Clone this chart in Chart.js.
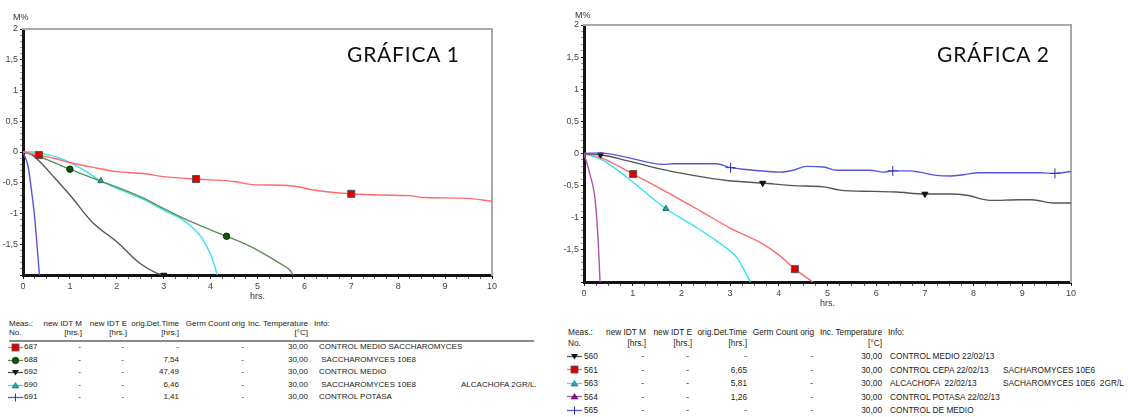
<!DOCTYPE html>
<html><head><meta charset="utf-8">
<script src="https://cdn.jsdelivr.net/npm/chart.js@4/dist/chart.umd.min.js"></script>
<style>
html,body{margin:0;padding:0;background:#fff;}
body{width:1128px;height:417px;position:relative;overflow:hidden;font-family:"Liberation Sans",Arial,sans-serif;}
canvas{position:absolute;}
.t{position:absolute;white-space:pre;line-height:10px;color:#222;}
.big{position:absolute;font-family:Lato,"Open Sans",sans-serif;font-size:21px;letter-spacing:0.8px;color:#111;white-space:nowrap;line-height:normal;}
.ax{position:absolute;font-size:9px;color:#333;line-height:10px;white-space:nowrap;}
</style></head><body>
<canvas id="c1"></canvas>
<canvas id="c2"></canvas>
<div class="big" style="left:347px;top:41px">GRÁFICA 1</div>
<div class="big" style="left:937px;top:41px">GRÁFICA 2</div>
<div class="ax" style="left:13px;top:12px">M%</div>
<div class="ax" style="left:575px;top:10px">M%</div>
<div id="tables"></div>
<script>
// ---------- Chart 1 data (hrs, M%) ----------
const hrs1_687 = [0, 0.34, 0.7, 1.0, 1.5, 2.0, 2.56, 3.0, 3.69, 4.2, 4.5, 4.9, 5.55, 5.9, 6.12, 7.0, 7.6, 8.25, 8.54, 9.39, 10];
const m1_687   = [0, -0.05, -0.11, -0.17, -0.25, -0.32, -0.35, -0.40, -0.44, -0.46, -0.48, -0.53, -0.54, -0.57, -0.61, -0.68, -0.70, -0.71, -0.74, -0.75, -0.80];
const hrs1_688 = [0, 0.22, 0.5, 1.0, 1.64, 2.0, 2.57, 3.0, 3.63, 4.34, 4.8, 5.12, 5.45, 5.69, 5.76];
const m1_688   = [0, -0.04, -0.12, -0.28, -0.47, -0.57, -0.75, -0.92, -1.15, -1.37, -1.52, -1.65, -1.80, -1.92, -2.0];
const hrs1_692 = [0, 0.2, 0.36, 0.65, 1.0, 1.5, 2.0, 2.49, 2.85, 3.0];
const m1_692   = [0, -0.05, -0.16, -0.40, -0.70, -1.16, -1.46, -1.81, -1.97, -2.0];
const hrs1_690 = [0, 0.22, 0.5, 0.79, 1.29, 1.66, 2.1, 2.57, 3.06, 3.4, 3.63, 3.8, 3.92, 4.03, 4.09, 4.14];
const m1_690   = [0, 0, -0.04, -0.10, -0.29, -0.47, -0.62, -0.77, -0.97, -1.10, -1.24, -1.38, -1.54, -1.72, -1.86, -2.0];
const hrs1_691 = [0, 0.11, 0.18, 0.24, 0.29, 0.35];
const m1_691   = [0, -0.24, -0.62, -1.0, -1.43, -2.0];
const marks1_687 = [0.34, 3.69, 7.0];
const marks1_688 = [1.0, 4.34];
const marks1_692 = [3.0];
const marks1_690 = [1.66];
const marks1_691 = [];

// ---------- Chart 2 data (hrs, M%) ----------
const hrs2_565 = [0, 0.33, 0.88, 1.63, 1.83, 2.72, 3.01, 3.48, 4.02, 4.3, 4.57, 4.92, 5.19, 5.87, 6.15, 6.34, 6.69, 6.89, 7.24, 7.52, 7.79, 8.13, 9.36, 9.67, 10];
const m2_565   = [0, 0.01, -0.06, -0.17, -0.16, -0.16, -0.22, -0.26, -0.29, -0.26, -0.20, -0.21, -0.26, -0.26, -0.29, -0.27, -0.27, -0.29, -0.34, -0.35, -0.33, -0.30, -0.30, -0.31, -0.28];
const hrs2_560 = [0, 0.34, 0.88, 1.56, 2.24, 2.93, 3.67, 4.3, 4.92, 5.26, 5.94, 6.42, 7.0, 7.52, 7.86, 8.34, 8.95, 9.2, 9.64, 10];
const m2_560   = [0, -0.02, -0.11, -0.24, -0.34, -0.42, -0.46, -0.50, -0.52, -0.57, -0.59, -0.60, -0.63, -0.63, -0.65, -0.73, -0.72, -0.72, -0.77, -0.77];
const hrs2_561 = [0, 0.33, 1.01, 1.70, 2.38, 3.0, 3.68, 4.02, 4.33, 4.70];
const m2_561   = [0, -0.06, -0.32, -0.60, -0.89, -1.16, -1.41, -1.59, -1.80, -2.0];
const hrs2_563 = [0, 0.40, 0.88, 1.22, 1.68, 2.24, 2.72, 3.14, 3.28, 3.42];
const m2_563   = [0, -0.11, -0.37, -0.58, -0.86, -1.12, -1.36, -1.62, -1.80, -2.0];
const hrs2_564 = [0, 0.12, 0.23, 0.29, 0.33];
const m2_564   = [0, -0.32, -0.73, -1.36, -2.0];
const marks2_560 = [0.34, 3.67, 7.0];
const marks2_561 = [1.01, 4.33];
const marks2_563 = [1.68];
const marks2_564 = [];
const marks2_565 = [3.01, 6.34, 9.67];

// ---------- Axis ----------
const xMin = 0, xMax = 10, yMin = -2, yMax = 2;

// ---------- Table texts ----------
const tbl1Ids  = ['687', '688', '692', '690', '691'];
const tbl1Det  = ['-', '7,54', '47,49', '6,46', '1,41'];
const tbl1Temp = ['30,00', '30,00', '30,00', '30,00', '30,00'];
const tbl1Info = ['CONTROL MEDIO SACCHAROMYCES', ' SACCHAROMYCES 10E8', 'CONTROL MEDIO', ' SACCHAROMYCES 10E8', 'CONTROL POTASA'];
const tbl1Info2 = ['', '', '', 'ALCACHOFA 2GR/L.', ''];
const tbl2Ids  = ['560', '561', '563', '564', '565'];
const tbl2Det  = ['-', '6,65', '5,81', '1,26', '-'];
const tbl2Temp = ['30,00', '30,00', '30,00', '30,00', '30,00'];
const tbl2Info = ['CONTROL MEDIO 22/02/13', 'CONTROL CEPA 22/02/13', 'ALCACHOFA  22/02/13', 'CONTROL POTASA 22/02/13', 'CONTROL DE MEDIO'];
const tbl2Info2 = ['', 'SACHAROMYCES 10E6', 'SACHAROMYCES 10E6  2GR/L', '', ''];

// ---------- Styles ----------
const ST = {
  red:   {line:'#ff6a6a', style:'rect', r:5, bg:'#e00000', bd:'#555555', rot:0, icon:'sq'},
  green: {line:'#5f8f55', style:'circle', r:3.2, bg:'#0a5a0a', bd:'#0a2a0a', rot:0, icon:'ci'},
  black: {line:'#555555', style:'triangle', r:3.5, bg:'#111111', bd:'#111111', rot:180, icon:'it'},
  cyan:  {line:'#35e3f3', style:'triangle', r:3.5, bg:'#22a6a6', bd:'#1a6f6f', rot:0, icon:'tr'},
  blue:  {line:'#5656dc', style:'cross', r:5, bg:'#3030c0', bd:'#3030c0', rot:0, icon:'pl'},
  purple:{line:'#b050b0', style:'triangle', r:3.5, bg:'#801880', bd:'#601060', rot:0, icon:'ptr'}
};

function ds(xs, ys, marks, st) {
  return {
    data: xs.map((x, i) => ({x: x, y: ys[i]})),
    borderColor: st.line, borderWidth: 1.4, fill: false,
    cubicInterpolationMode: 'monotone',
    pointStyle: st.style, pointRotation: st.rot,
    pointRadius: c => (c.raw && marks.includes(c.raw.x)) ? st.r : 0,
    pointHoverRadius: 0,
    pointBackgroundColor: st.bg, pointBorderColor: st.bd, pointBorderWidth: 1
  };
}

const font9 = {family: '"Liberation Sans", Arial, sans-serif', size: 9};

function makeChart(id, left, W, H, area, datasets) {
  const el = document.getElementById(id);
  el.width = W; el.height = H;
  el.style.left = left + 'px'; el.style.top = '0px';
  el.style.width = W + 'px'; el.style.height = H + 'px';
  return new Chart(el, {
    type: 'line',
    data: {datasets: datasets},
    options: {
      responsive: false, animation: false, devicePixelRatio: 1,
      layout: {padding: 0},
      plugins: {legend: {display: false}, tooltip: {enabled: false}},
      scales: {
        x: {
          type: 'linear', position: 'bottom', min: xMin, max: xMax,
          afterFit: s => { s.height = H - area.bottom; },
          border: {display: true, color: '#151515', width: 3},
          grid: {display: true, drawOnChartArea: false, drawTicks: true, tickLength: 4,
                 tickColor: c => Number.isInteger(c.tick.value) ? '#222' : '#666', tickWidth: 1},
          ticks: {stepSize: 0.25, autoSkip: false, maxRotation: 0, padding: 2, color: '#444', font: font9,
                  callback: v => Number.isInteger(v) ? String(v) : ''},
          title: {display: true, text: 'hrs.', color: '#333', font: font9, padding: 0}
        },
        y: {
          type: 'linear', position: 'left', min: yMin, max: yMax,
          afterFit: s => { s.width = area.left; },
          border: {display: true, color: '#151515', width: 3},
          grid: {display: true, drawOnChartArea: false, drawTicks: true, tickLength: 3,
                 tickColor: c => (Math.abs(c.tick.value * 2 - Math.round(c.tick.value * 2)) < 1e-6) ? '#222' : '#999', tickWidth: 1},
          ticks: {stepSize: 0.1, autoSkip: false, padding: 2, color: '#444', font: font9,
                  callback: v => {
                    if (Math.abs(v * 2 - Math.round(v * 2)) > 1e-6) return '';
                    if (Math.abs(v - yMin) < 1e-6) return '';
                    return String(Math.round(v * 10) / 10).replace('.', ',');
                  }}
        },
        xt: {
          type: 'linear', position: 'top', min: xMin, max: xMax,
          afterFit: s => { s.height = area.top; },
          border: {display: true, color: '#a9a9a9', width: 2},
          grid: {display: false, drawTicks: false},
          ticks: {display: false}
        },
        yr: {
          type: 'linear', position: 'right', min: yMin, max: yMax,
          afterFit: s => { s.width = W - area.right; },
          border: {display: true, color: '#a9a9a9', width: 2},
          grid: {display: false, drawTicks: false},
          ticks: {display: false}
        }
      }
    }
  });
}

makeChart('c1', 0, 520, 302, {left: 23, top: 29, right: 492, bottom: 275}, [
  ds(hrs1_687, m1_687, marks1_687, ST.red),
  ds(hrs1_688, m1_688, marks1_688, ST.green),
  ds(hrs1_692, m1_692, marks1_692, ST.black),
  ds(hrs1_690, m1_690, marks1_690, ST.cyan),
  ds(hrs1_691, m1_691, marks1_691, ST.blue)
]);
makeChart('c2', 560, 568, 309, {left: 24, top: 25, right: 511, bottom: 282}, [
  ds(hrs2_565, m2_565, marks2_565, ST.blue),
  ds(hrs2_560, m2_560, marks2_560, ST.black),
  ds(hrs2_561, m2_561, marks2_561, ST.red),
  ds(hrs2_563, m2_563, marks2_563, ST.cyan),
  ds(hrs2_564, m2_564, marks2_564, ST.purple)
]);

// ---------- Tables (HTML text) ----------
function icon(st) {
  let m = '';
  const c = 7.5, y = 4.5;
  if (st.icon === 'sq') m = `<rect x="${c-3.5}" y="${y-3.5}" width="7" height="7" fill="${st.bg}" stroke="${st.bd}" stroke-width="0.8"/>`;
  else if (st.icon === 'ci') m = `<circle cx="${c}" cy="${y}" r="3.2" fill="${st.bg}" stroke="${st.bd}" stroke-width="0.8"/>`;
  else if (st.icon === 'it') m = `<polygon points="${c-3.5},${y-2.5} ${c+3.5},${y-2.5} ${c},${y+3}" fill="${st.bg}"/>`;
  else if (st.icon === 'tr' || st.icon === 'ptr') m = `<polygon points="${c-3.5},${y+2.5} ${c+3.5},${y+2.5} ${c},${y-3}" fill="${st.bg}" stroke="${st.bd}" stroke-width="0.6"/>`;
  else if (st.icon === 'pl') m = `<line x1="${c}" y1="${y-4}" x2="${c}" y2="${y+4}" stroke="${st.bg}" stroke-width="1"/>`;
  return `<svg width="15" height="9" style="position:absolute;left:0;top:0"><line x1="0" y1="${y}" x2="15" y2="${y}" stroke="${st.line}" stroke-width="1.3"/>${m}</svg>`;
}
const host = document.getElementById('tables');
function txt(s, x, yc, fs, align) {
  const d = document.createElement('div');
  d.className = 't';
  d.style.fontSize = fs + 'px';
  d.style.top = (yc - 5) + 'px';
  d.style.left = x + 'px';
  if (align === 'r') d.style.transform = 'translateX(-100%)';
  d.textContent = s;
  host.appendChild(d);
}
function buildTable(T) {
  const f = T.fs;
  txt('Meas.:', T.meas, T.h1, f); txt('No.', T.meas, T.h2, f);
  txt('new IDT M', T.cM, T.h1, f, 'r'); txt('[hrs.]', T.cM, T.h2, f, 'r');
  txt('new IDT E', T.cE, T.h1, f, 'r'); txt('[hrs.]', T.cE, T.h2, f, 'r');
  txt('orig.Det.Time', T.cD, T.h1, f, 'r'); txt('[hrs.]', T.cD, T.h2, f, 'r');
  txt('Germ Count orig', T.cG, T.h1, f, 'r');
  txt('Inc. Temperature', T.cT, T.h1, f, 'r'); txt('[°C]', T.cT, T.h2, f, 'r');
  txt('Info:', T.info, T.h1, f);
  if (T.line) {
    const l = document.createElement('div');
    l.style.cssText = `position:absolute;left:${T.meas}px;top:${T.line}px;width:${T.lineW}px;height:2px;background:#8a8a8a`;
    host.appendChild(l);
  }
  T.ids.forEach((id, i) => {
    const yc = T.rows[i];
    const ic = document.createElement('div');
    ic.style.cssText = `position:absolute;left:${T.meas - 1}px;top:${yc - 4.5}px;width:15px;height:9px`;
    ic.innerHTML = icon(T.styles[i]);
    host.appendChild(ic);
    txt(id, T.num, yc, f);
    txt('-', T.dM, yc, f, 'r');
    txt('-', T.dE, yc, f, 'r');
    txt(T.det[i], T.cD, yc, f, 'r');
    txt('-', T.dG, yc, f, 'r');
    txt(T.temp[i], T.cT, yc, f, 'r');
    txt(T.info1[i], T.infoV, yc, f);
    if (T.info2[i]) txt(T.info2[i], T.info2X, yc, f);
  });
}
buildTable({fs: 8, meas: 9, num: 24, cM: 82, cE: 127, cD: 179, cG: 245, cT: 308, info: 314, infoV: 319,
  dM: 81, dE: 124, dG: 244, info2X: 461, h1: 324, h2: 333, line: 340, lineW: 525,
  rows: [347, 360, 372, 385, 397], ids: tbl1Ids, det: tbl1Det, temp: tbl1Temp, info1: tbl1Info, info2: tbl1Info2,
  styles: [ST.red, ST.green, ST.black, ST.cyan, ST.blue]});
buildTable({fs: 8.3, meas: 568, num: 584, cM: 646, cE: 692, cD: 747, cG: 814, cT: 882, info: 888, infoV: 890,
  dM: 644, dE: 689, dG: 813, info2X: 1003, h1: 332, h2: 343, line: 0,
  rows: [356, 369.5, 383, 396.5, 410], ids: tbl2Ids, det: tbl2Det, temp: tbl2Temp, info1: tbl2Info, info2: tbl2Info2,
  styles: [ST.black, ST.red, ST.cyan, ST.purple, ST.blue]});
</script>
</body></html>
